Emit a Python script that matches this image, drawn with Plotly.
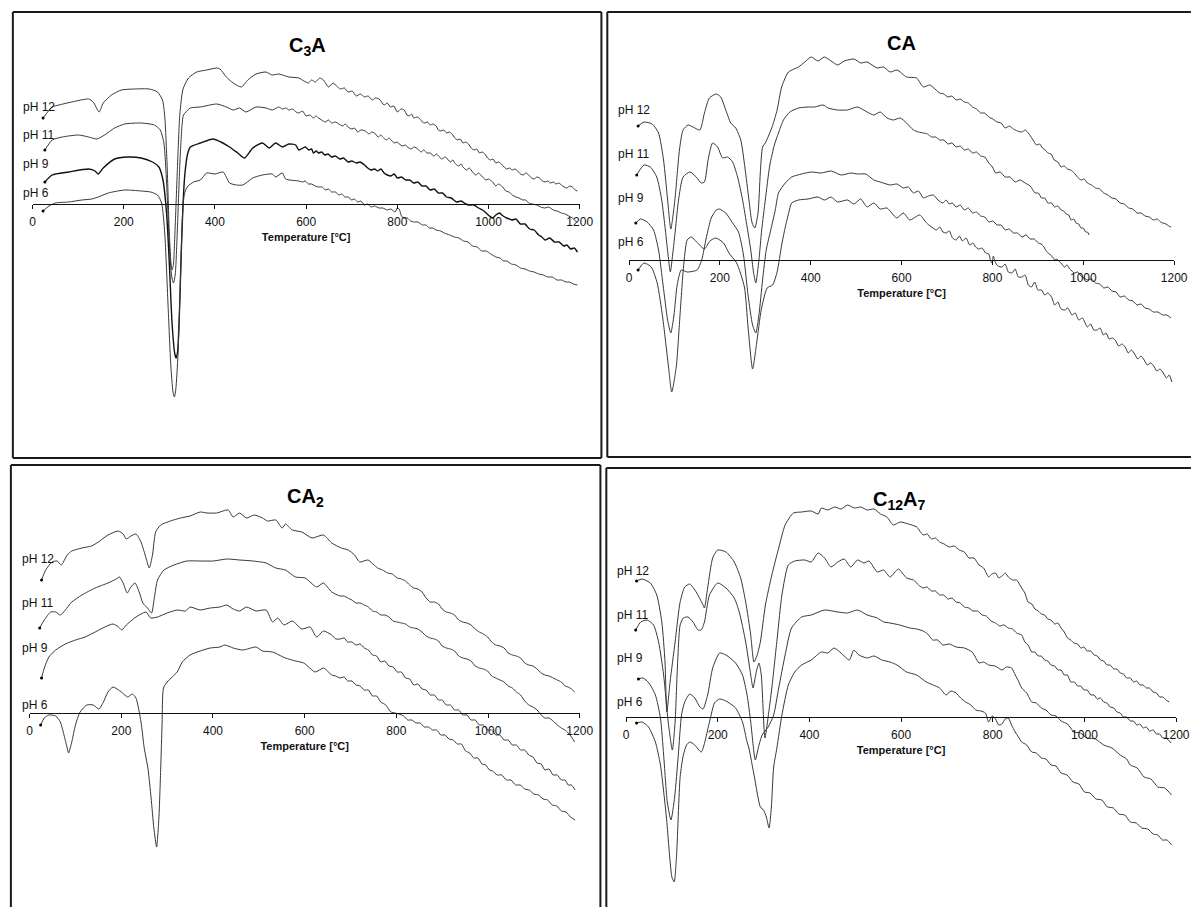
import plotly.graph_objects as go

W, H = 1200, 907

TEMP_TICKS = [0, 200, 400, 600, 800, 1000, 1200]
PH_LABELS = ["pH 12", "pH 11", "pH 9", "pH 6"]
PANEL_TITLES = ["C<sub>3</sub>A", "CA", "CA<sub>2</sub>", "C<sub>12</sub>A<sub>7</sub>"]
X_TITLE = "Temperature [°C]"

# Each series: list of (temperature °C, DTA signal in arbitrary units; 0 = level of the temperature axis)

# ---------------- C3A ----------------
C3A_PH12 = [(23,86),(43,97),(58,99),(86,102),(123,105),(133,102),(146,92),(155,101),(173,109),(195,114),(223,115),(256,115),(274,112),(285,104),(290,87),(295,40),(300,-30),(304,-62),(306,-66),(309,-60),(313,-20),(318,40),(323,90),(330,115),(342,126),(360,132),(382,134),(404,136),(411,135),(425,127),(440,121),(458,117),(472,124),(490,130),(512,132),(525,129),(540,130),(562,127),(584,126),(595,123),(605,121),(612,124),(620,122),(630,126),(638,124),(649,117),(659,121),(667,118),(675,115),(684,116),(692,112),(701,113),(710,108),(719,110),(728,107),(736,108),(745,104),(752,106),(760,105),(771,99),(778,101),(785,97),(792,98),(800,92),(808,95),(815,94),(821,89),(826,88),(831,90),(836,86),(843,87),(850,85),(855,82),(860,81),(866,82),(872,79),(878,80),(885,78),(890,74),(895,73),(902,74),(908,71),(914,72),(920,70),(926,66),(932,64),(938,65),(944,61),(950,62),(956,60),(962,56),(968,54),(974,55),(980,51),(986,52),(992,50),(998,46),(1004,44),(1010,45),(1016,41),(1022,42),(1028,40),(1034,37),(1040,35),(1046,36),(1052,34),(1058,35),(1064,33),(1070,30),(1076,29),(1082,31),(1088,29),(1094,26),(1100,25),(1106,27),(1112,26),(1118,23),(1124,22),(1130,23),(1136,21),(1142,22),(1148,20),(1154,21),(1160,19),(1166,17),(1172,16),(1178,18),(1184,17),(1190,14),(1195,13)]
C3A_PH11 = [(27,54),(43,64),(65,67),(101,69),(123,67),(141,65),(158,69),(180,76),(202,80),(238,81),(267,79),(280,74),(288,61),(294,20),(300,-40),(305,-72),(309,-79),(313,-70),(318,-20),(323,40),(328,80),(331,89),(346,96),(368,97),(404,100),(425,97),(440,94),(454,96),(468,92),(490,97),(512,96),(526,94),(540,97),(548,95),(556,96),(562,94),(570,95),(578,92),(584,91),(592,93),(600,88),(608,89),(616,86),(622,88),(627,86),(634,84),(642,82),(649,84),(656,81),(664,82),(672,80),(680,78),(686,80),(692,77),(700,75),(706,76),(713,72),(720,74),(730,73),(738,70),(744,72),(750,71),(758,67),(764,69),(768,67),(776,64),(782,66),(786,64),(794,61),(800,62),(804,60),(812,58),(818,59),(822,57),(830,55),(837,57),(845,55),(852,52),(858,54),(865,51),(872,51),(880,48),(886,50),(890,48),(898,45),(904,47),(908,46),(916,42),(922,44),(926,41),(934,38),(940,40),(944,37),(952,34),(958,36),(965,32),(972,29),(978,31),(987,27),(994,24),(1000,25),(1009,22),(1016,18),(1022,20),(1031,17),(1038,13),(1045,12),(1052,9),(1060,7),(1067,6),(1075,4),(1082,4),(1088,1),(1096,0),(1106,-1),(1114,-3),(1124,-4),(1132,-3),(1142,-6),(1150,-7),(1160,-9),(1168,-10),(1176,-12),(1184,-14),(1193,-18)]
C3A_PH9 = [(27,22),(43,29),(79,32),(123,35),(137,33),(144,30),(155,36),(180,45),(209,47),(238,46),(263,42),(277,37),(286,24),(294,-10),(300,-60),(306,-120),(312,-150),(315,-154),(318,-148),(322,-110),(326,-50),(330,0),(334,30),(340,50),(346,57),(368,61),(396,65),(413,62),(432,57),(450,51),(465,46),(483,56),(504,61),(519,56),(533,61),(548,57),(562,60),(577,59),(584,54),(598,57),(606,54),(612,55),(616,51),(622,53),(627,51),(634,52),(641,49),(648,50),(656,47),(664,48),(674,45),(682,46),(692,42),(700,43),(710,41),(718,42),(728,39),(735,36),(742,34),(750,35),(757,33),(764,35),(771,31),(778,29),(786,28),(793,30),(800,26),(809,27),(818,24),(827,24),(836,21),(845,22),(854,18),(863,18),(872,14),(881,15),(890,11),(899,11),(908,7),(918,6),(930,2),(940,3),(950,0),(958,-1),(968,-1),(978,-4),(987,-6),(995,-9),(1002,-12),(1009,-14),(1016,-11),(1024,-9),(1032,-12),(1040,-14),(1052,-16),(1060,-15),(1070,-20),(1080,-20),(1090,-25),(1100,-26),(1110,-31),(1117,-33),(1124,-36),(1134,-34),(1145,-38),(1155,-38),(1165,-42),(1172,-41),(1180,-45),(1188,-44),(1195,-48)]
C3A_PH6 = [(23,-7),(36,-2),(50,1),(79,2),(108,4),(130,5),(144,7),(166,11),(202,14),(238,13),(259,12),(274,9),(283,1),(290,-30),(297,-100),(303,-160),(308,-188),(311,-193),(314,-186),(319,-150),(324,-80),(329,-10),(333,10),(339,17),(353,22),(368,24),(382,31),(400,30),(418,32),(432,21),(447,19),(461,19),(483,26),(504,29),(526,30),(533,27),(548,31),(555,25),(584,23),(592,22),(598,23),(605,20),(612,20),(620,18),(627,17),(635,17),(642,14),(649,15),(656,12),(664,12),(672,9),(678,10),(685,7),(692,7),(700,4),(706,5),(713,2),(720,3),(728,-1),(735,0),(742,-3),(750,-2),(760,-4),(768,-4),(778,-6),(786,-5),(795,-8),(800,-4),(804,-5),(809,-12),(814,-14),(822,-14),(829,-17),(836,-18),(845,-18),(855,-21),(863,-21),(870,-24),(878,-24),(885,-26),(895,-27),(903,-29),(915,-31),(925,-33),(935,-34),(945,-37),(955,-38),(965,-42),(975,-43),(985,-47),(995,-47),(1005,-50),(1016,-53),(1025,-54),(1033,-57),(1040,-57),(1050,-60),(1060,-61),(1070,-64),(1080,-65),(1090,-67),(1100,-68),(1110,-70),(1120,-71),(1130,-73),(1140,-73),(1150,-76),(1160,-76),(1170,-78),(1178,-78),(1186,-80),(1195,-81)]

# ---------------- CA ----------------
CA_PH12 = [(20,134),(33,138),(51,136),(65,127),(76,100),(85,60),(92,31),(101,60),(111,110),(119,130),(130,135),(141,133),(156,130),(166,147),(177,162),(192,166),(202,163),(213,150),(224,137),(235,132),(246,120),(255,93),(264,60),(271,37),(277,32),(284,47),(289,87),(294,113),(300,117),(306,123),(315,133),(326,150),(336,173),(351,188),(373,193),(387,198),(401,203),(416,199),(430,203),(445,199),(459,195),(474,199),(495,201),(510,197),(524,198),(546,192),(560,193),(575,188),(590,190),(611,183),(633,182),(648,173),(662,175),(684,167),(693,166),(702,163),(711,164),(720,160),(729,161),(738,158),(747,157),(756,153),(765,151),(774,147),(783,147),(792,143),(801,141),(810,138),(819,137),(828,132),(837,134),(846,131),(855,129),(865,128),(872,130),(879,127),(888,121),(897,115),(904,116),(910,112),(916,110),(922,107),(929,106),(936,100),(944,98),(951,93),(958,94),(965,91),(972,90),(980,87),(987,83),(995,80),(1002,81),(1009,77),(1018,75),(1027,72),(1036,71),(1045,67),(1054,65),(1063,62),(1072,61),(1081,57),(1090,56),(1100,52),(1109,51),(1118,47),(1127,47),(1136,44),(1145,43),(1154,40),(1163,41),(1170,38),(1175,37),(1182,36),(1188,34),(1193,33)]
CA_PH11 = [(17,85),(33,95),(47,93),(61,83),(72,60),(80,30),(86,5),(91,-12),(96,5),(102,30),(109,60),(119,83),(134,88),(148,83),(159,77),(166,78),(174,100),(184,117),(195,113),(206,102),(217,103),(228,98),(239,83),(250,60),(260,33),(268,10),(274,-12),(279,-23),(286,0),(292,30),(300,60),(310,95),(320,115),(329,127),(340,140),(354,148),(373,152),(394,153),(409,153),(427,155),(438,152),(459,150),(481,150),(503,153),(524,148),(539,145),(553,148),(568,142),(582,140),(597,142),(611,137),(626,130),(637,128),(648,127),(657,126),(666,123),(675,123),(684,120),(693,120),(702,116),(711,117),(720,113),(729,114),(738,110),(747,111),(756,107),(765,108),(774,104),(783,103),(792,97),(800,93),(807,87),(817,88),(828,83),(839,83),(850,78),(861,80),(872,77),(883,74),(894,67),(901,67),(908,62),(915,62),(922,57),(930,57),(937,53),(944,54),(951,50),(957,49),(962,46),(968,45),(973,40),(979,41),(984,37),(990,36),(995,32),(1000,32),(1005,28),(1009,28),(1013,25)]
CA_PH9 = [(15,37),(25,41),(40,38),(54,30),(65,10),(75,-25),(85,-60),(92,-73),(99,-55),(106,-25),(115,-10),(128,-12),(150,-10),(160,0),(170,22),(181,42),(192,50),(199,51),(213,47),(228,37),(241,28),(252,5),(262,-35),(272,-65),(279,-73),(286,-55),(294,-20),(302,10),(312,30),(322,50),(329,67),(344,77),(358,83),(380,86),(401,88),(423,87),(445,89),(467,85),(488,87),(503,86),(521,86),(539,80),(553,78),(575,75),(590,76),(604,72),(615,73),(626,67),(637,69),(648,62),(659,64),(670,65),(680,60),(691,57),(698,60),(705,56),(712,57),(720,53),(729,55),(738,50),(747,52),(756,47),(765,48),(774,44),(783,43),(792,38),(801,39),(810,35),(819,35),(828,30),(837,31),(846,27),(855,27),(865,23),(874,25),(883,21),(892,21),(901,17),(907,16),(912,14),(917,10),(922,7),(926,6),(930,4),(934,2),(937,0),(942,1),(948,-2),(953,-4),(958,-7),(964,-5),(970,-9),(975,-11),(980,-13),(988,-12),(995,-16),(1002,-18),(1009,-20),(1018,-19),(1027,-23),(1036,-24),(1045,-28),(1054,-27),(1063,-31),(1072,-32),(1081,-37),(1090,-36),(1100,-40),(1109,-41),(1118,-45),(1127,-44),(1136,-48),(1145,-49),(1154,-52),(1164,-52),(1175,-55),(1184,-55),(1193,-58)]
CA_PH6 = [(20,-10),(33,-3),(49,-7),(62,-23),(74,-57),(87,-107),(94,-132),(104,-107),(112,-57),(120,-7),(128,20),(137,23),(149,18),(166,11),(178,19),(191,22),(208,17),(220,7),(237,-3),(254,-27),(262,-67),(272,-109),(281,-83),(291,-50),(304,-28),(316,-25),(326,-12),(336,15),(344,33),(352,48),(358,57),(373,60),(394,61),(416,63),(430,60),(445,63),(459,58),(481,60),(495,56),(510,61),(524,53),(539,57),(553,51),(568,52),(589,42),(604,47),(618,40),(640,45),(655,37),(677,30),(684,33),(691,28),(698,27),(705,29),(712,22),(720,20),(727,24),(734,19),(742,22),(750,15),(757,17),(763,13),(770,11),(777,12),(785,7),(792,6),(796,-1),(799,-3),(802,4),(806,-2),(812,-6),(821,-7),(828,-4),(835,-12),(843,-13),(850,-9),(857,-17),(865,-17),(872,-15),(879,-25),(886,-27),(893,-22),(900,-30),(908,-30),(915,-35),(922,-33),(930,-37),(937,-45),(944,-42),(951,-49),(959,-50),(966,-48),(975,-55),(982,-53),(990,-60),(998,-58),(1009,-67),(1016,-64),(1023,-70),(1030,-70),(1037,-68),(1044,-75),(1050,-73),(1057,-79),(1064,-78),(1070,-80),(1078,-86),(1085,-84),(1092,-87),(1099,-93),(1106,-90),(1113,-94),(1120,-99),(1127,-96),(1134,-100),(1141,-105),(1148,-103),(1155,-106),(1162,-111),(1169,-109),(1176,-113),(1183,-118),(1189,-115),(1195,-122)]

# ---------------- CA2 ----------------
CA2_PH12 = [(26,133),(35,143),(49,151),(60,152),(69,148),(82,158),(92,162),(114,165),(135,167),(150,171),(171,178),(193,182),(204,179),(211,174),(221,177),(232,179),(243,171),(252,158),(261,145),(268,158),(275,181),(286,188),(307,192),(329,195),(350,197),(372,201),(387,200),(408,200),(433,203),(444,196),(458,200),(473,195),(490,198),(508,195),(519,192),(537,193),(551,185),(558,189),(573,183),(594,181),(616,175),(641,178),(659,170),(680,165),(695,163),(709,158),(720,151),(738,153),(759,145),(770,143),(781,140),(791,139),(802,135),(811,134),(820,132),(829,128),(838,125),(847,124),(856,121),(865,115),(874,111),(883,111),(892,109),(900,104),(909,101),(918,100),(927,98),(936,93),(945,91),(954,90),(963,88),(972,84),(981,81),(990,79),(999,76),(1008,71),(1017,68),(1026,67),(1035,65),(1044,60),(1053,58),(1062,57),(1071,55),(1080,50),(1089,48),(1098,47),(1107,44),(1116,40),(1124,38),(1133,37),(1142,35),(1151,33),(1160,31),(1168,27),(1175,26),(1182,24),(1189,21)]
CA2_PH11 = [(22,85),(32,93),(46,101),(57,101),(67,98),(78,103),(92,111),(114,118),(143,125),(171,130),(189,134),(196,136),(204,130),(213,120),(221,126),(230,130),(239,121),(247,110),(257,105),(266,100),(272,115),(279,133),(293,143),(315,148),(343,152),(372,152),(401,152),(430,154),(458,153),(487,152),(516,150),(537,145),(558,143),(580,136),(601,135),(626,126),(641,130),(659,121),(677,117),(686,117),(694,115),(703,113),(712,110),(721,110),(730,108),(739,106),(748,102),(757,101),(766,98),(775,98),(784,96),(793,92),(802,91),(811,90),(820,89),(829,86),(838,85),(847,84),(856,81),(865,77),(874,75),(883,74),(892,72),(900,67),(909,65),(918,64),(927,62),(936,57),(945,55),(954,54),(963,52),(972,47),(981,45),(990,44),(999,42),(1008,37),(1017,35),(1026,33),(1035,31),(1044,27),(1053,25),(1062,21),(1071,18),(1080,12),(1089,8),(1098,6),(1107,3),(1116,-2),(1124,-5),(1133,-5),(1142,-8),(1151,-12),(1160,-15),(1168,-17),(1175,-20),(1182,-24),(1189,-29)]
CA2_PH9 = [(26,35),(32,45),(42,56),(57,63),(78,69),(100,73),(121,76),(143,81),(164,86),(182,89),(194,86),(201,83),(211,88),(229,95),(243,99),(254,101),(264,95),(279,96),(300,100),(322,103),(340,102),(350,106),(372,103),(394,105),(415,106),(430,108),(444,104),(458,102),(473,106),(494,102),(516,103),(530,91),(541,95),(555,88),(573,92),(594,84),(612,86),(626,76),(641,82),(659,78),(668,74),(677,74),(686,75),(694,71),(703,71),(712,68),(721,69),(730,65),(739,63),(748,58),(757,57),(766,51),(775,52),(784,47),(793,46),(802,41),(811,41),(820,35),(829,34),(838,28),(847,29),(856,24),(865,23),(874,18),(883,18),(892,13),(900,13),(909,8),(918,8),(927,3),(936,3),(945,-2),(954,-2),(963,-7),(972,-7),(981,-12),(990,-12),(999,-17),(1008,-17),(1017,-22),(1026,-22),(1035,-27),(1044,-27),(1053,-32),(1062,-32),(1071,-37),(1080,-37),(1089,-42),(1098,-44),(1107,-50),(1116,-51),(1124,-57),(1133,-56),(1142,-62),(1151,-62),(1160,-67),(1168,-67),(1175,-72),(1182,-72),(1190,-77)]
CA2_PH6 = [(24,-12),(32,-5),(42,-2),(57,-3),(67,-9),(75,-22),(82,-35),(85,-40),(92,-29),(100,-12),(110,1),(125,8),(139,8),(151,4),(161,11),(171,21),(182,26),(200,21),(214,16),(224,19),(232,15),(243,-9),(250,-35),(258,-55),(265,-85),(271,-115),(277,-134),(282,-105),(286,-55),(289,-10),(292,25),(300,31),(311,36),(322,41),(333,51),(350,58),(372,62),(394,65),(415,66),(426,68),(444,65),(465,63),(494,66),(508,62),(530,61),(544,58),(558,55),(580,52),(598,50),(623,41),(641,45),(659,38),(668,37),(677,35),(686,36),(694,32),(703,32),(712,28),(721,27),(730,23),(739,23),(748,17),(757,17),(766,11),(777,8),(788,1),(797,0),(805,-1),(816,-3),(825,-7),(834,-7),(843,-10),(852,-10),(861,-14),(870,-14),(879,-17),(888,-17),(897,-22),(906,-22),(915,-26),(924,-27),(933,-31),(942,-31),(951,-38),(960,-40),(969,-45),(978,-45),(987,-51),(995,-52),(1003,-57),(1010,-58),(1020,-62),(1030,-62),(1040,-67),(1050,-67),(1060,-72),(1070,-72),(1080,-76),(1090,-77),(1100,-81),(1110,-82),(1120,-86),(1130,-87),(1140,-92),(1150,-93),(1160,-98),(1170,-99),(1180,-104),(1190,-107)]

# ---------------- C12A7 ----------------
C12A7_PH12 = [(23,136),(35,138),(53,134),(67,122),(78,95),(85,55),(89,5),(96,35),(107,75),(118,115),(128,130),(139,133),(153,125),(168,112),(171,109),(178,129),(189,159),(200,167),(218,165),(236,155),(250,139),(261,115),(272,82),(279,55),(286,62),(293,75),(304,112),(318,142),(333,169),(347,192),(365,204),(383,205),(404,206),(419,203),(426,209),(440,207),(455,210),(469,208),(483,212),(498,209),(512,210),(526,207),(541,208),(555,203),(569,200),(583,192),(598,195),(616,193),(634,190),(648,182),(657,183),(666,178),(675,179),(684,175),(694,173),(705,170),(716,171),(727,167),(738,165),(748,159),(759,159),(770,152),(780,149),(791,140),(798,143),(806,144),(813,139),(820,141),(827,144),(834,140),(843,137),(852,137),(858,133),(863,129),(870,124),(877,115),(885,113),(892,108),(899,106),(906,103),(913,102),(920,98),(927,97),(935,93),(942,94),(949,89),(956,85),(963,79),(970,77),(977,74),(985,73),(992,69),(999,70),(1006,66),(1014,66),(1021,62),(1028,61),(1035,57),(1042,56),(1049,52),(1056,52),(1064,48),(1071,48),(1078,44),(1085,43),(1092,39),(1100,39),(1107,35),(1114,36),(1121,32),(1128,32),(1135,29),(1142,29),(1150,25),(1157,24),(1164,20),(1171,20),(1178,17),(1185,15)]
C12A7_PH11 = [(21,87),(32,95),(46,97),(60,92),(71,75),(82,42),(92,-5),(101,-33),(107,-5),(112,49),(118,92),(125,99),(135,100),(146,95),(157,87),(164,87),(171,95),(182,122),(200,134),(218,129),(236,119),(247,105),(261,75),(272,42),(277,29),(284,45),(290,54),(295,42),(303,-21),(310,0),(318,29),(330,80),(340,122),(354,152),(368,156),(390,157),(404,155),(419,164),(433,159),(447,150),(462,155),(476,158),(490,150),(505,157),(519,154),(530,156),(548,145),(562,147),(576,140),(594,148),(612,139),(627,137),(638,132),(648,129),(657,130),(666,126),(675,126),(684,122),(693,122),(702,118),(711,119),(720,115),(729,114),(738,110),(748,109),(757,106),(767,106),(777,102),(786,101),(796,96),(806,94),(815,91),(824,92),(834,89),(843,88),(852,84),(863,82),(870,75),(877,72),(885,65),(892,65),(899,61),(906,61),(913,57),(920,56),(927,52),(935,51),(942,47),(949,47),(956,42),(963,42),(970,35),(978,35),(985,31),(992,31),(999,27),(1006,27),(1014,22),(1021,22),(1028,18),(1035,19),(1042,15),(1049,14),(1056,10),(1064,9),(1071,5),(1078,4),(1085,0),(1092,0),(1100,-4),(1107,-4),(1114,-8),(1121,-7),(1128,-11),(1135,-10),(1142,-14),(1150,-13),(1157,-17),(1164,-17),(1171,-21),(1178,-21),(1189,-26)]
C12A7_PH9 = [(27,38),(37,39),(50,34),(64,22),(75,-1),(82,-38),(90,-85),(98,-103),(106,-80),(114,-38),(121,2),(128,15),(139,23),(150,19),(161,10),(168,8),(178,22),(189,49),(204,64),(218,62),(239,54),(254,42),(264,22),(272,-5),(282,-43),(290,-28),(297,-18),(310,-10),(322,2),(333,29),(347,62),(361,89),(383,100),(404,102),(433,107),(462,105),(483,104),(505,107),(526,102),(548,99),(562,95),(576,94),(597,92),(619,89),(634,88),(648,86),(658,83),(669,77),(680,77),(691,72),(705,73),(720,70),(738,69),(755,65),(762,60),(770,54),(780,55),(791,52),(805,51),(820,47),(830,50),(841,49),(849,42),(856,36),(863,29),(874,24),(885,15),(895,14),(906,9),(916,7),(927,2),(938,1),(949,-4),(963,-7),(977,-15),(991,-16),(1006,-21),(1024,-22),(1042,-28),(1060,-31),(1078,-38),(1092,-42),(1100,-48),(1115,-51),(1130,-60),(1145,-62),(1160,-70),(1175,-71),(1190,-78)]
C12A7_PH6 = [(23,-6),(35,-5),(49,-10),(64,-25),(75,-48),(88,-100),(100,-160),(105,-165),(110,-140),(118,-60),(125,-38),(132,-28),(139,-25),(150,-28),(164,-35),(182,-5),(193,14),(204,18),(218,16),(239,9),(254,-5),(264,-25),(268,-31),(280,-60),(293,-90),(300,-93),(306,-100),(312,-111),(317,-90),(322,-50),(329,-31),(340,2),(354,32),(368,45),(383,52),(404,57),(426,65),(440,64),(454,69),(469,64),(487,57),(497,67),(508,62),(526,59),(541,61),(558,57),(576,55),(591,52),(612,45),(634,42),(655,35),(670,32),(684,29),(698,22),(709,26),(720,24),(730,19),(741,15),(752,12),(763,7),(774,6),(784,4),(791,-5),(799,1),(806,-2),(813,-8),(820,-7),(827,-2),(834,-1),(841,-8),(849,-15),(856,-20),(863,-25),(874,-28),(885,-35),(895,-36),(906,-41),(916,-42),(927,-48),(938,-49),(949,-56),(962,-58),(975,-65),(988,-67),(1000,-75),(1012,-76),(1025,-82),(1038,-83),(1050,-90),(1063,-91),(1075,-97),(1088,-98),(1100,-105),(1113,-106),(1125,-111),(1138,-112),(1150,-117),(1160,-118),(1170,-123),(1180,-123),(1190,-128)]

SERIES = [
    [C3A_PH12, C3A_PH11, C3A_PH9, C3A_PH6],
    [CA_PH12, CA_PH11, CA_PH9, CA_PH6],
    [CA2_PH12, CA2_PH11, CA2_PH9, CA2_PH6],
    [C12A7_PH12, C12A7_PH11, C12A7_PH9, C12A7_PH6],
]

# ---------------- layout geometry (pixels) ----------------
# box = (left, top, right, bottom); None = edge lies outside the picture
PANELS = [
    dict(box=(10, 12, 607, 458), x0=30, x1=585, axis=204, title=(309, 46), lab_x=18, lab_y=[107, 135, 164, 193]),
    dict(box=(613, 12, None, 457), x0=635, x1=1188, axis=260, title=(911, 43), lab_x=622, lab_y=[110, 154, 198, 242]),
    dict(box=(8, 465, 606, None), x0=27, x1=585, axis=713, title=(307, 497), lab_x=17, lab_y=[559, 603, 648, 705]),
    dict(box=(612, 468, None, None), x0=632, x1=1190, axis=717, title=(909, 500), lab_x=621, lab_y=[571, 615, 658, 702]),
]

FONT = "Liberation Sans, Arial, sans-serif"
LINE_COLOR = "#383838"
BORDER = dict(color="#1a1a1a", width=2)


def fx(p):
    return p / W


def fy(p):
    return 1 - p / H


def seg(x0, y0, x1, y1):
    return dict(type="line", xref="paper", yref="paper", x0=fx(x0), y0=fy(y0), x1=fx(x1), y1=fy(y1),
                line=BORDER, layer="above")


fig = go.Figure()
layout = dict(
    width=W, height=H, margin=dict(l=0, r=0, t=0, b=0),
    paper_bgcolor="white", plot_bgcolor="rgba(0,0,0,0)",
    showlegend=False, font=dict(family=FONT, color="#111"),
    shapes=[], annotations=[],
)

for i, (pan, series) in enumerate(zip(PANELS, SERIES)):
    n = "" if i == 0 else str(i + 1)
    bx0, by0, bx1, by1 = pan["box"]
    right = bx1 if bx1 is not None else W + 5
    bottom = by1 if by1 is not None else H + 5
    ytop = by0 + 2
    ybot = min(bottom - 2, H)
    layout["xaxis" + n] = dict(
        domain=[fx(pan["x0"]), fx(pan["x1"])], range=[0, 1200],
        anchor="free", position=fy(pan["axis"]),
        showline=True, linecolor="#111", linewidth=1,
        ticks="outside", ticklen=4, tickcolor="#111", tickwidth=1,
        tickvals=TEMP_TICKS, ticktext=[str(t) for t in TEMP_TICKS],
        tickfont=dict(size=12, family=FONT, color="#111"),
        ticklabelstandoff=3, ticklabeloverflow="allow",
        showgrid=False, zeroline=False, fixedrange=True,
        title=dict(text="<b>" + X_TITLE + "</b>", font=dict(size=11, family=FONT, color="#111"), standoff=4),
    )
    layout["yaxis" + n] = dict(
        domain=[fy(ybot), fy(ytop)],
        range=[pan["axis"] - ybot, pan["axis"] - ytop],
        visible=False, showgrid=False, zeroline=False, anchor="x" + n, fixedrange=True,
    )
    for j, pts in enumerate(series):
        t = [p[0] for p in pts]
        v = [p[1] for p in pts]
        darker = (i == 0 and j == 2)
        fig.add_trace(go.Scatter(
            x=t, y=v, mode="lines", xaxis="x" + n, yaxis="y" + n,
            line=dict(color="#111" if darker else LINE_COLOR, width=1.4 if darker else 1,
                      shape="spline", smoothing=0.6),
            hoverinfo="skip",
        ))
        fig.add_trace(go.Scatter(
            x=t[:1], y=v[:1], mode="markers", xaxis="x" + n, yaxis="y" + n,
            marker=dict(color="black", size=3), hoverinfo="skip",
        ))
        layout["annotations"].append(dict(
            x=fx(pan["lab_x"]), y=fy(pan["lab_y"][j]), xref="paper", yref="paper",
            text=PH_LABELS[j], showarrow=False, xanchor="left", yanchor="middle",
            font=dict(size=12, family=FONT, color="#111"),
        ))
    layout["annotations"].append(dict(
        x=fx(pan["title"][0]), y=fy(pan["title"][1]), xref="paper", yref="paper",
        text="<b>" + PANEL_TITLES[i] + "</b>", showarrow=False, xanchor="center", yanchor="middle",
        font=dict(size=20, family=FONT, color="black"),
    ))
    # panel frame (only the edges that fall inside the picture)
    layout["shapes"].append(seg(bx0, by0, right, by0))
    layout["shapes"].append(seg(bx0, by0, bx0, bottom))
    if bx1 is not None:
        layout["shapes"].append(seg(bx1, by0, bx1, bottom))
    if by1 is not None:
        layout["shapes"].append(seg(bx0, by1, right, by1))

fig.update_layout(**layout)
fig.write_html("out.html")
